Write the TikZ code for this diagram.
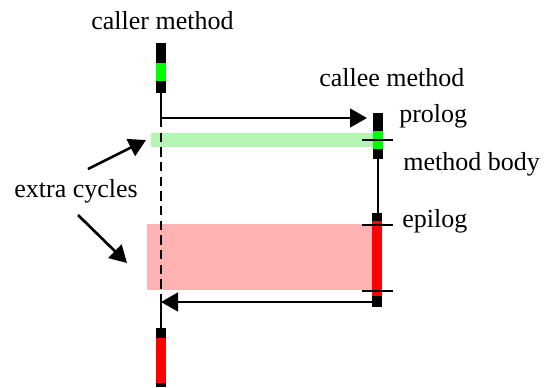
\documentclass[tikz,border=0pt]{standalone}
\usepackage{fontspec}
\newfontfamily\labelfont{LiberationSerif-Regular.ttf}
\usetikzlibrary{arrows.meta}
\definecolor{bandgreen}{RGB}{180,245,180}
\definecolor{bandred}{RGB}{255,178,178}

\begin{document}
\begin{tikzpicture}
[x=0.75pt,y=-0.75pt,line width=2pt,%
  every node/.style={inner sep=0pt,anchor=base west,
    font=\labelfont\fontsize{19.5}{23}\selectfont},%
  tip/.style={-{Triangle[length=12.75pt,width=14pt]}},%
  lifedash/.style={dash pattern=on 7pt off 4pt}]
\useasboundingbox (0,0) rectangle (546,387);
% extra cycle bands
\fill[bandgreen] (151,133) rectangle (373,147);
\fill[bandred] (147,224) rectangle (373,290);
% points on the lifelines
\coordinate (c1) at (161,93);
\coordinate (c2) at (161,118);
\coordinate (c3) at (161,297);
\coordinate (c4) at (161,302);
\coordinate (c5) at (161,328);
\coordinate (e1) at (367,118);
\coordinate (e2) at (378,159);
\coordinate (e3) at (378,213);
\coordinate (e4) at (372,302);
% labels
\node (caller) at (90,29) {caller method};
\node (callee) at (318,86) {callee method};
\node (prolog) at (398,122) {prolog};
\node (body) at (402,170) {method body};
\node (epilog) at (401,227) {epilog};
\node (extra) at (13,197) {extra cycles};
\coordinate (x1) at (88,169);
\coordinate (x2) at (146,140);
\coordinate (x3) at (78,215);
\coordinate (x4) at (127,263);
% lifelines
\draw (c1) -- (c2);
\draw[lifedash] (c2) -- (c3);
\draw (c3) -- (c5);
\draw (e2) -- (e3);
% caller bars
\fill (156,43) rectangle (166,93);
\fill[green] (156,63) rectangle (166,81);
\fill (156,328) rectangle (166,387);
\fill[red] (156,338) rectangle (166,383);
% callee bars
\fill (373,113) rectangle (383,159);
\fill[green] (373,131) rectangle (383,149);
\fill (372,213) rectangle (382,307);
\fill[red] (372,221) rectangle (382,296);
% ticks
\draw (362,140) -- (393,140);
\draw (362,225) -- (393,225);
\draw (362,291) -- (393,291);
% calls
\path
(c2) edge[tip] (e1)
(e4) edge[tip] (c4)
(x1) edge[tip] (x2)
(x3) edge[tip] (x4);
\end{tikzpicture}
\end{document}
